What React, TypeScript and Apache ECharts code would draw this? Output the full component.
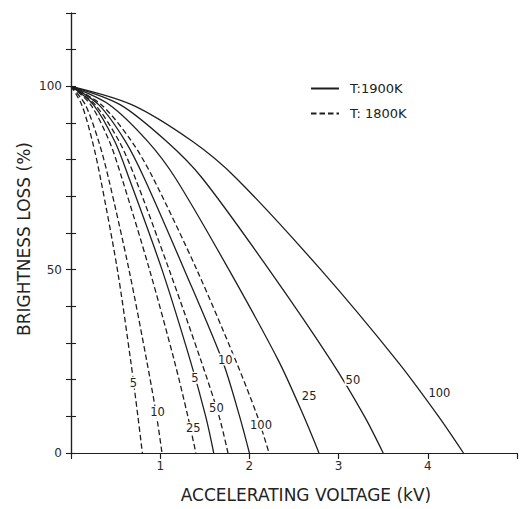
import React, { useEffect, useRef } from 'react';
import * as echarts from 'echarts';

// Brightness loss levels (%) at which each curve's voltage was read
const lossLevels = [100, 95, 85, 75, 50, 25, 10, 0];

// Accelerating voltage (kV) at each loss level — T: 1900K (solid)
const t1900_5 = [0, 0.25, 0.49, 0.65, 1.02, 1.34, 1.51, 1.60];
const t1900_10 = [0, 0.31, 0.61, 0.82, 1.27, 1.70, 1.89, 2.0];
const t1900_25 = [0, 0.43, 0.86, 1.17, 1.77, 2.33, 2.61, 2.78];
const t1900_50 = [0, 0.55, 1.07, 1.47, 2.22, 2.92, 3.29, 3.5];
const t1900_100 = [0, 0.68, 1.36, 1.85, 2.8, 3.66, 4.12, 4.4];

// T: 1800K (dashed)
const t1800_5 = [0, 0.12, 0.24, 0.33, 0.52, 0.67, 0.75, 0.8];
const t1800_10 = [0, 0.16, 0.31, 0.42, 0.65, 0.85, 0.96, 1.02];
const t1800_25 = [0, 0.22, 0.43, 0.57, 0.88, 1.16, 1.31, 1.40];
const t1800_50 = [0, 0.27, 0.54, 0.72, 1.10, 1.46, 1.66, 1.76];
const t1800_100 = [0, 0.34, 0.68, 0.92, 1.41, 1.85, 2.09, 2.22];

const curveLabels = ['5', '10', '25', '50', '100'];
const solidSets = [t1900_5, t1900_10, t1900_25, t1900_50, t1900_100];
const dashedSets = [t1800_5, t1800_10, t1800_25, t1800_50, t1800_100];

// label anchor points, in data coordinates [kV, %]
const solidLabelAt = [[1.39, 20.5], [1.73, 25.5], [2.67, 15.6], [3.16, 20], [4.13, 16.4]];
const dashedLabelAt = [[0.70, 19.2], [0.97, 11.2], [1.37, 6.8], [1.63, 12.3], [2.13, 7.7]];

const xTickLabels = [1, 2, 3, 4];
const yTickLabels = [0, 50, 100];

const legendSolid = 'T:1900K';
const legendDashed = 'T: 1800K';

const FONT = 'DejaVu Sans';
const INK = '#1e1e1e';

function makeSeries(name: string, dashed: boolean, xs: number[], label: string, at: number[]) {
  return {
    type: 'line',
    name,
    data: xs.map((x, i) => [x, lossLevels[i]]),
    symbol: 'none',
    showSymbol: false,
    smooth: 0.3,
    clip: true,
    lineStyle: { color: INK, width: 1.3, type: dashed ? [5.5, 3] : 'solid' },
    itemStyle: { color: INK },
    emphasis: { disabled: true },
    markPoint: {
      symbol: 'circle',
      symbolSize: 0,
      silent: true,
      data: [{ name: label, coord: at }],
      label: {
        show: true,
        position: 'inside',
        formatter: '{b}',
        color: '#222',
        fontSize: 11.5,
        fontFamily: FONT,
        backgroundColor: '#fff',
        padding: [0, 1],
      },
    },
  };
}

export default function App() {
  const ref = useRef<HTMLDivElement>(null);
  useEffect(() => {
    if (!ref.current) return;
    const chart = echarts.init(ref.current, null, { renderer: 'svg' });
    const series: any[] = [];
    solidSets.forEach((xs, i) => series.push(makeSeries(legendSolid, false, xs, curveLabels[i], solidLabelAt[i])));
    dashedSets.forEach((xs, i) => series.push(makeSeries(legendDashed, true, xs, curveLabels[i], dashedLabelAt[i])));

    const axisLine = { show: true, lineStyle: { color: INK, width: 1.2 } };
    const tickStyle = { color: INK, width: 1.1 };

    chart.setOption({
      animation: false,
      backgroundColor: '#fff',
      grid: { left: 71, right: -2, top: 13, bottom: 56, containLabel: false },
      legend: {
        data: [legendSolid, legendDashed],
        orient: 'vertical',
        left: 305,
        top: 77,
        itemWidth: 28,
        itemHeight: 14,
        itemGap: 12,
        selectedMode: false,
        itemStyle: { opacity: 0 },
        textStyle: { fontSize: 13, color: '#222', fontFamily: FONT, padding: [0, 0, 0, 6] },
      },
      xAxis: [
        {
          type: 'value',
          position: 'bottom',
          min: 0,
          max: 5,
          interval: 1,
          axisLine,
          axisTick: { show: true, inside: false, length: 6, lineStyle: tickStyle },
          axisLabel: {
            formatter: (v: number) => (xTickLabels.includes(v) ? String(v) : ''),
            margin: 7,
            fontSize: 12,
            color: '#2a2a2a',
            fontFamily: FONT,
          },
          splitLine: { show: false },
        },
        {
          type: 'value',
          position: 'top',
          min: 0,
          max: 5,
          interval: 1,
          axisLine,
          axisTick: { show: true, inside: true, length: 5, lineStyle: tickStyle },
          axisLabel: { show: false },
          splitLine: { show: false },
        },
      ],
      yAxis: [
        {
          type: 'value',
          position: 'left',
          min: 0,
          max: 120,
          interval: 10,
          axisLine,
          axisTick: { show: true, inside: true, length: 5, lineStyle: tickStyle },
          axisLabel: {
            formatter: (v: number) => (yTickLabels.includes(v) ? String(v) : ''),
            margin: 9,
            fontSize: 12,
            color: '#2a2a2a',
            fontFamily: FONT,
          },
          splitLine: { show: false },
        },
        {
          type: 'value',
          position: 'right',
          min: 0,
          max: 120,
          interval: 10,
          axisLine,
          axisTick: { show: true, inside: true, length: 5, lineStyle: tickStyle },
          axisLabel: { show: false },
          splitLine: { show: false },
        },
      ],
      graphic: [
        {
          type: 'text',
          x: 306,
          y: 495,
          style: {
            text: 'ACCELERATING VOLTAGE (kV)',
            fontSize: 17,
            fontFamily: FONT,
            fill: '#222',
            align: 'center',
            verticalAlign: 'middle',
            textAlign: 'center',
            textVerticalAlign: 'middle',
          },
        },
        {
          type: 'text',
          x: 24,
          y: 239,
          rotation: Math.PI / 2,
          style: {
            text: 'BRIGHTNESS LOSS (%)',
            fontSize: 17,
            fontFamily: FONT,
            fill: '#222',
            align: 'center',
            verticalAlign: 'middle',
            textAlign: 'center',
            textVerticalAlign: 'middle',
          },
        },
      ],
      series,
    });
    return () => chart.dispose();
  }, []);
  return <div ref={ref} style={{ position: 'fixed', left: 0, top: 0, width: 520, height: 509 }} />;
}
